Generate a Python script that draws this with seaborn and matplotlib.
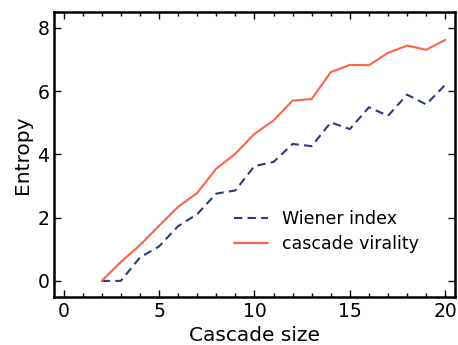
import pandas as pd
import matplotlib
matplotlib.use('Agg')
import matplotlib.pyplot as plt
import seaborn as sns
from matplotlib.ticker import MultipleLocator

# Data
cascade_size = list(range(2, 21))
wiener_index = [0.0, 0.0, 0.74, 1.09, 1.73, 2.11, 2.76, 2.86, 3.63, 3.76,
                4.33, 4.26, 5.01, 4.80, 5.49, 5.22, 5.89, 5.58, 6.20]
cascade_virality = [0.0, 0.60, 1.13, 1.74, 2.34, 2.78, 3.55, 4.02, 4.65, 5.07,
                    5.70, 5.75, 6.60, 6.83, 6.82, 7.21, 7.44, 7.31, 7.62]

df = pd.DataFrame({'Cascade size': cascade_size,
                   'Wiener index': wiener_index,
                   'cascade virality': cascade_virality})

# Zwarte assen, ticks naar binnen
sns.set_style('white', rc={'axes.edgecolor': 'black', 'text.color': 'black',
                           'axes.labelcolor': 'black', 'xtick.color': 'black',
                           'ytick.color': 'black'})
plt.rcParams['font.family'] = ['DejaVu Sans']

fig = plt.figure(figsize=(4.58, 3.45), dpi=100)
ax = fig.add_axes([0.118, 0.14, 0.875, 0.825])

sns.lineplot(x='Cascade size', y='Wiener index', data=df, ax=ax,
             color='#2b3a80', linewidth=1.5, label='Wiener index')
sns.lineplot(x='Cascade size', y='cascade virality', data=df, ax=ax,
             color='#ff6347', linewidth=1.5, label='cascade virality')
ax.lines[0].set_dashes((4, 2.5))

ax.set_xlim(-0.5, 20.5)
ax.set_ylim(-0.5, 8.5)
ax.xaxis.set_major_locator(MultipleLocator(5))
ax.xaxis.set_minor_locator(MultipleLocator(1))
ax.yaxis.set_major_locator(MultipleLocator(2))

ax.tick_params(which='both', direction='in', top=True, right=True,
               bottom=True, left=True, labelsize=13.5, colors='black')
ax.tick_params(which='major', length=5, width=1)
ax.tick_params(which='minor', length=3, width=1)
for sp in ax.spines.values():
    sp.set_linewidth(1.8)
    sp.set_color('black')

ax.set_xlabel('Cascade size', fontsize=14.5)
ax.set_ylabel('Entropy', fontsize=14.5)

leg = ax.legend(loc='lower right', frameon=False, fontsize=12.5,
                bbox_to_anchor=(0.95, 0.10), handlelength=2.0, labelspacing=0.4)
leg.get_lines()[0].set_dashes((4, 2.5))

plt.savefig('out.png', dpi=100)
